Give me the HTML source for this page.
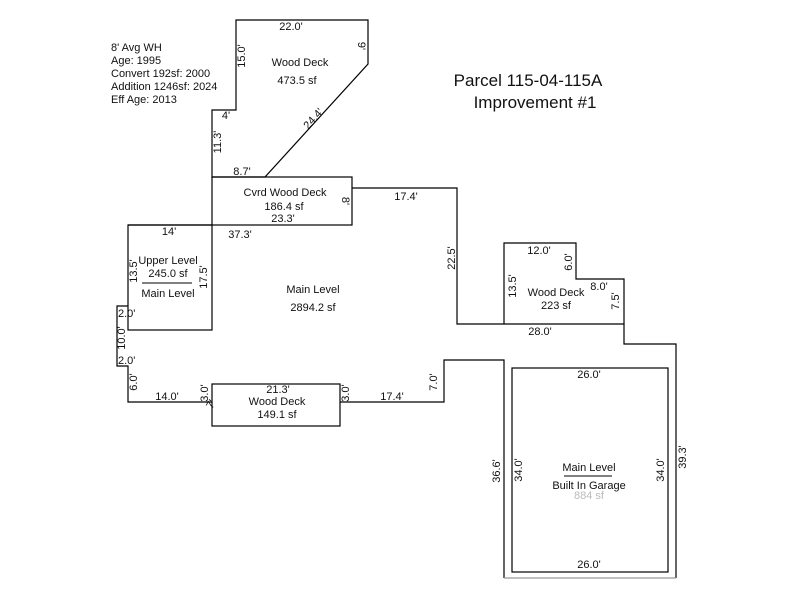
<!DOCTYPE html>
<html><head><style>body{margin:0;background:#fff}svg{display:block}text{font-family:"Liberation Sans",sans-serif;font-size:11px;fill:#111}</style></head><body>
<svg width="800" height="600" viewBox="0 0 800 600">
<g fill="none" stroke="#000" stroke-width="1.2">
<polygon points="236,20 368,20 368,64 265,177 212,177 212,110 236,110"/>
<rect x="212" y="177" width="140" height="48"/>
<polyline points="352,188 457,188 457,324 624,324 624,344 676,344 676,578"/>
<polyline points="504,578 504,360 444,360 444,402 340,402"/>
<rect x="212" y="384" width="128" height="42"/>
<polyline points="212,402 128,402 128,366 117,366 117,306 128,306"/>
<rect x="128" y="225" width="84" height="105"/>
<polyline points="128,225 212,225"/>
<polyline points="504,324 504,243 576,243 576,279 624,279 624,324"/>
<rect x="512" y="368" width="156" height="204"/>
<line x1="142" y1="283" x2="192" y2="283" stroke-width="1"/>
<line x1="564" y1="476" x2="612" y2="476" stroke-width="1"/>
</g>
<line x1="504" y1="578" x2="676" y2="578" stroke="#999" stroke-width="1.2"/>
<text x="111" y="51">8' Avg WH</text>
<text x="111" y="64">Age: 1995</text>
<text x="111" y="77">Convert 192sf: 2000</text>
<text x="111" y="90">Addition 1246sf: 2024</text>
<text x="111" y="103">Eff Age: 2013</text>
<text x="528" y="86" text-anchor="middle" style="font-size:17px">Parcel 115-04-115A</text>
<text x="535" y="108" text-anchor="middle" style="font-size:17px">Improvement #1</text>
<text x="291" y="30" text-anchor="middle">22.0'</text>
<text x="300" y="66" text-anchor="middle">Wood Deck</text>
<text x="297" y="84" text-anchor="middle">473.5 sf</text>
<text transform="translate(245,56) rotate(-90)" text-anchor="middle">15.0'</text>
<text transform="translate(358,46) rotate(90)" text-anchor="middle">9'</text>
<text x="226" y="119" text-anchor="middle">4'</text>
<text transform="translate(221,142) rotate(-90)" text-anchor="middle">11.3'</text>
<text transform="translate(316,121) rotate(-48)" text-anchor="middle">24.4'</text>
<text x="242" y="175" text-anchor="middle">8.7'</text>
<text x="285" y="196" text-anchor="middle">Cvrd Wood Deck</text>
<text x="284" y="210" text-anchor="middle">186.4 sf</text>
<text x="283" y="222" text-anchor="middle">23.3'</text>
<text transform="translate(342,201) rotate(90)" text-anchor="middle">8'</text>
<text x="169" y="235" text-anchor="middle">14'</text>
<text x="240" y="238" text-anchor="middle">37.3'</text>
<text x="406" y="200" text-anchor="middle">17.4'</text>
<text transform="translate(455,258) rotate(-90)" text-anchor="middle">22.5'</text>
<text x="168" y="264" text-anchor="middle">Upper Level</text>
<text x="168" y="277" text-anchor="middle">245.0 sf</text>
<text x="168" y="297" text-anchor="middle">Main Level</text>
<text transform="translate(137,271) rotate(-90)" text-anchor="middle">13.5'</text>
<text transform="translate(207,277) rotate(-90)" text-anchor="middle">17.5'</text>
<text x="313" y="293" text-anchor="middle">Main Level</text>
<text x="313" y="311" text-anchor="middle">2894.2 sf</text>
<text x="118" y="317">2.0'</text>
<text transform="translate(125,338) rotate(-90)" text-anchor="middle">10.0'</text>
<text x="118" y="364">2.0'</text>
<text transform="translate(137,382) rotate(-90)" text-anchor="middle">6.0'</text>
<text x="167" y="400" text-anchor="middle">14.0'</text>
<text transform="translate(208,393) rotate(-90)" text-anchor="middle">3.0'</text>
<text transform="translate(214,406) rotate(-60)" text-anchor="middle">7'</text>
<text x="278" y="393" text-anchor="middle">21.3'</text>
<text x="277" y="405" text-anchor="middle">Wood Deck</text>
<text x="277" y="418" text-anchor="middle">149.1 sf</text>
<text transform="translate(349,393) rotate(-90)" text-anchor="middle">3.0'</text>
<text x="392" y="400" text-anchor="middle">17.4'</text>
<text transform="translate(437,382) rotate(-90)" text-anchor="middle">7.0'</text>
<text x="539" y="254" text-anchor="middle">12.0'</text>
<text transform="translate(572,262) rotate(-90)" text-anchor="middle">6.0'</text>
<text transform="translate(516,286) rotate(-90)" text-anchor="middle">13.5'</text>
<text x="556" y="296" text-anchor="middle">Wood Deck</text>
<text x="556" y="309" text-anchor="middle">223 sf</text>
<text x="599" y="290" text-anchor="middle">8.0'</text>
<text transform="translate(619,301) rotate(-90)" text-anchor="middle">7.5'</text>
<text x="540" y="335" text-anchor="middle">28.0'</text>
<text x="589" y="378" text-anchor="middle">26.0'</text>
<text transform="translate(500,471) rotate(-90)" text-anchor="middle">36.6'</text>
<text transform="translate(522,470) rotate(-90)" text-anchor="middle">34.0'</text>
<text transform="translate(664,470) rotate(-90)" text-anchor="middle">34.0'</text>
<text transform="translate(686,457) rotate(-90)" text-anchor="middle">39.3'</text>
<text x="589" y="471" text-anchor="middle">Main Level</text>
<text x="589" y="489" text-anchor="middle">Built In Garage</text>
<text x="589" y="499" text-anchor="middle" style="fill:#bbb">884 sf</text>
<text x="589" y="568" text-anchor="middle">26.0'</text>
</svg>
</body></html>
